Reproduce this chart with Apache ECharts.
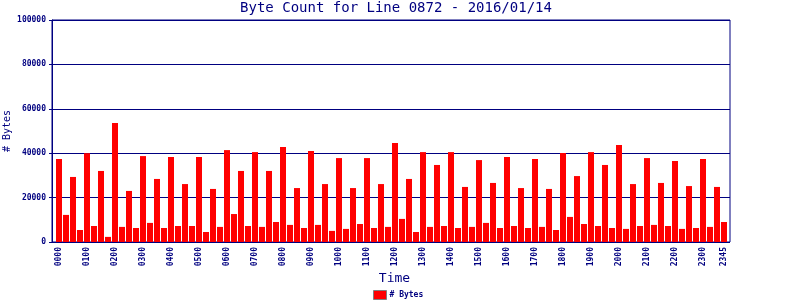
<!DOCTYPE html>
<html>
<head>
<meta charset="utf-8">
<script src="https://cdn.jsdelivr.net/npm/echarts@6/dist/echarts.min.js"></script>
<style>html,body{margin:0;padding:0;background:#fff}#c{width:800px;height:300px}</style>
</head>
<body>
<div id="c"></div>
<script>
const titleText = "Byte Count for Line 0872 - 2016/01/14";
const seriesName = "# Bytes";
const yMin = 0, yMax = 100000, yStep = 20000;
// categories: every 15 minutes 0000..2345
const categories = [];
for (let h = 0; h < 24; h++) {
  for (let m = 0; m < 60; m += 15) {
    categories.push(String(h).padStart(2, '0') + String(m).padStart(2, '0'));
  }
}
const byteCounts = [
  37400, 12200, 29300, 5400, 40000, 7200, 32000, 2300,
  53600, 6800, 23000, 6300, 38700, 8600, 28400, 6300,
  38300, 7200, 26100, 7200, 38300, 4500, 23900, 6800,
  41400, 12600, 32000, 7200, 40500, 6800, 32000, 9000,
  42800, 7700, 24300, 6300, 41000, 7700, 26100, 5000,
  37800, 5900, 24300, 8100, 37800, 6300, 26100, 6800,
  44600, 10400, 28400, 4500, 40500, 6800, 34700, 7200,
  40500, 6300, 24800, 6800, 36900, 8600, 26600, 6300,
  38300, 7200, 24300, 6300, 37400, 6800, 23900, 5400,
  40100, 11300, 29700, 8100, 40500, 7200, 34700, 6300,
  43700, 5900, 26100, 7200, 37800, 7700, 26600, 7200,
  36500, 5900, 25200, 6300, 37400, 6800, 24800, 9000
];

const navy = '#000080';
const mono = '"DejaVu Sans Mono", monospace';
const chart = echarts.init(document.getElementById('c'));
chart.setOption({
  animation: false,
  backgroundColor: '#fff',
  title: {
    text: titleText, left: 396, top: 1, padding: 0, textAlign: 'center',
    textStyle: { fontFamily: mono, fontSize: 14, fontWeight: 'normal', color: navy }
  },
  legend: {
    data: [seriesName], left: 373, top: 290, padding: 0, itemWidth: 13, itemHeight: 9, itemGap: 4,
    icon: 'rect',
    itemStyle: { borderColor: '#808080', borderWidth: 1 },
    textStyle: { fontFamily: mono, fontSize: 8, fontWeight: 'bold', color: navy, padding: [0, 0, 0, -2] }
  },
  grid: [
    { left: 52, right: 70, top: 20, bottom: 58, show: true, borderColor: navy, borderWidth: 1,
      backgroundColor: 'transparent', containLabel: false, outerBoundsMode: 'none' },
    { left: 55.5, width: 672, top: 20, bottom: 58, containLabel: false, outerBoundsMode: 'none' }
  ],
  xAxis: [
    { type: 'value', gridIndex: 0, show: false, min: 0, max: 1 },
    {
      type: 'category', gridIndex: 1, data: categories,
      axisLine: { show: false }, axisTick: { show: false },
      axisLabel: {
        rotate: 90, margin: 5, fontFamily: mono, fontSize: 8, fontWeight: 'bold', color: navy,
        interval: (i) => i % 4 === 0 || i === categories.length - 1
      },
      name: 'Time', nameLocation: 'middle', nameGap: 30, nameMoveOverlap: false,
      nameTextStyle: { fontFamily: mono, fontSize: 13, color: navy, padding: [0, 0, 0, 6] }
    }
  ],
  yAxis: [
    {
      type: 'value', gridIndex: 0, min: yMin, max: yMax, interval: yStep,
      axisLine: { show: true, lineStyle: { color: navy, width: 1 } },
      axisTick: { show: true, length: 3, lineStyle: { color: navy } },
      axisLabel: { margin: 6, fontFamily: mono, fontSize: 8, fontWeight: 'bold', color: navy,
        formatter: (v) => String(v) },
      splitLine: { show: true, lineStyle: { color: navy, width: 1 } },
      name: '# Bytes', nameLocation: 'middle', nameRotate: 90, nameGap: 40, nameMoveOverlap: false,
      nameTextStyle: { fontFamily: mono, fontSize: 10, color: navy }
    },
    { type: 'value', gridIndex: 1, min: yMin, max: yMax, show: false }
  ],
  series: [{
    name: seriesName, type: 'bar', xAxisIndex: 1, yAxisIndex: 1,
    data: byteCounts, barWidth: 6,
    itemStyle: { color: '#ff0000' }
  }]
});
</script>
</body>
</html>
